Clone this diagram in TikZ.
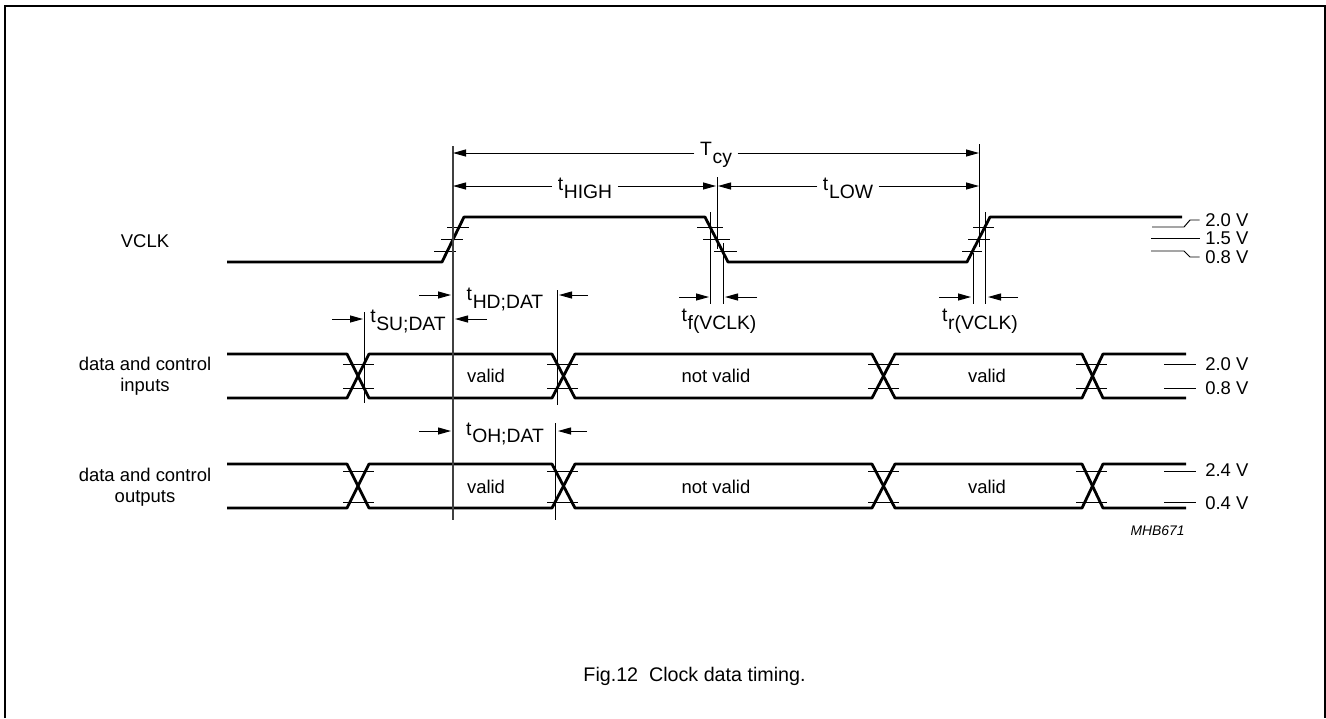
\documentclass[tikz,border=0pt]{standalone}
\usepackage{fontspec}
\setmainfont{Liberation Sans}
\usetikzlibrary{arrows.meta}
\newcommand{\tsub}[2]{\rule{0pt}{9.8pt}#1\kern0.4pt\raisebox{-4.2pt}{#2}}
\tikzset{
	signal/.style={line width=1.6pt,line join=round},
	tickline/.style={line width=0.55pt},
	dimline/.style={line width=0.55pt,-{Triangle[length=7.4pt,width=4pt]}},
	txt/.style={font=\fontsize{10.5}{12}\selectfont,inner sep=3pt,align=center},
	tlabel/.style={font=\fontsize{11}{12}\selectfont,inner sep=3pt},
	volt/.style={font=\fontsize{10.5}{12}\selectfont,inner sep=3pt,anchor=west},
}
\begin{document}
\begin{tikzpicture}[x=0.02cm,y=-0.02cm]
	\useasboundingbox (0,0) rectangle (1326,718);
	% Frame
	\draw[line width=1.1pt] (5,718) -- (5,6) -- (1325,6) -- (1325,718);
	% VCLK
	\draw[signal] (227,262) -- (442,262) -- (464,217) -- (705,217) -- (728,262) -- (967,262) -- (990,217) -- (1182,217);
	% Data and control
	\foreach \ya/\yb in {354/398,398/354,464/508,508/464}
		\draw[signal] (227,\ya) -- (347,\ya) -- (369,\yb) -- (552,\yb) -- (575,\ya) -- (872,\ya) -- (895,\yb) -- (1082,\yb) -- (1103,\ya) -- (1186,\ya);
	% Level marks on the VCLK edges
	\foreach \xa/\xb/\yy in {447/469/227,441/463/239,434/456/251,697/723/227,703/730/239,714/737/251,973/994/227,968/990/239,962/982/251}
		\draw[tickline] (\xa,\yy) -- (\xb,\yy);
	% Level marks on the crossings
	\foreach \xa/\xb in {343/374,547/578,868/899,1076/1107}
		\foreach \yy in {364,388,471,502}
			\draw[tickline] (\xa,\yy) -- (\xb,\yy);
	% Vertical references
	\draw[line width=0.7pt,black!75] (453,146) -- (453,520);
	\foreach \xx/\ya/\yb in {717/177/249,979.5/144/247,710/212/304,723/243/304,973/253/304,985/212/304,557/290/405,364/312/403,555/423/520}
		\draw[tickline] (\xx,\ya) -- (\xx,\yb);
	% Cycle times
	\node[tlabel] (tcy) at (716,153) {\tsub{T}{cy}};
	\node[tlabel] (thigh) at (585,186) {\tsub{t}{HIGH}};
	\node[tlabel] (tlow) at (848,186) {\tsub{t}{LOW}};
	\coordinate (cyleft) at (453,153);
	\coordinate (cyright) at (979,153);
	\coordinate (highleft) at (453,186);
	\coordinate (highright) at (716,186);
	\coordinate (lowleft) at (718,186);
	\coordinate (lowright) at (979,186);
	\draw[dimline] (tcy) -- (cyleft);
	\draw[dimline] (tcy) -- (cyright);
	\draw[dimline] (thigh) -- (highleft);
	\draw[dimline] (thigh) -- (highright);
	\draw[dimline] (tlow) -- (lowleft);
	\draw[dimline] (tlow) -- (lowright);
	% Short outside arrows
	\node[tlabel] (thd) at (505,297) {\tsub{t}{HD;DAT}};
	\node[tlabel] (tsu) at (408,319) {\tsub{t}{SU;DAT}};
	\node[tlabel] (toh) at (505,431.5) {\tsub{t}{OH;DAT}};
	\node[tlabel] (tf) at (719,319) {\tsub{t}{f(VCLK)}};
	\node[tlabel] (tr) at (980,319) {\tsub{t}{r(VCLK)}};
	\foreach \xa/\xb/\yy in {419/451/295,588/559/295,332/363/319,487/455/319,419/451/431,587/558/431,679/709/297,757/725/297,939/971/297,1018/988/297}
		\draw[dimline] (\xa,\yy) -- (\xb,\yy);
	% Signal names
	\node[txt] (vclk) at (145,241) {VCLK};
	\node[txt] (inputs) at (145,376.5) {data and control\\inputs};
	\node[txt] (outputs) at (145,487) {data and control\\outputs};
	% Windows
	\node[txt] (valida) at (486,376) {valid};
	\node[txt] (notvalida) at (716,376) {not valid};
	\node[txt] (validb) at (987,376) {valid};
	\node[txt] (validc) at (486,487) {valid};
	\node[txt] (notvalidb) at (716,487) {not valid};
	\node[txt] (validd) at (987,487) {valid};
	% Voltage levels
	\node[volt] (vhigh) at (1199.7,220) {2.0 V};
	\node[volt] (vmid) at (1199.7,238.5) {1.5 V};
	\node[volt] (vlow) at (1199.7,257) {0.8 V};
	\draw[tickline] (1152,227) -- (1184,227) -- (1190,220) -- (vhigh);
	\draw[tickline] (1151,238.5) -- (vmid);
	\draw[tickline] (1151,251) -- (1184,251) -- (1190,257) -- (vlow);
	\node[volt] (vih) at (1199.7,364) {2.0 V};
	\node[volt] (vil) at (1199.7,388) {0.8 V};
	\node[volt] (voh) at (1199.7,470) {2.4 V};
	\node[volt] (vol) at (1199.7,503) {0.4 V};
	\foreach \yy in {364,388,471,502}
		\draw[tickline] (1164,\yy) -- (1196,\yy);
	% Code and caption
	\node[font=\fontsize{7.9}{9}\selectfont\itshape,inner sep=0pt,anchor=east] (code) at (1185,531) {MHB671};
	\node[font=\fontsize{11.2}{13}\selectfont,inner sep=0pt] (caption) at (694.5,676) {Fig.12\ \ Clock data timing.};
\end{tikzpicture}
\end{document}
